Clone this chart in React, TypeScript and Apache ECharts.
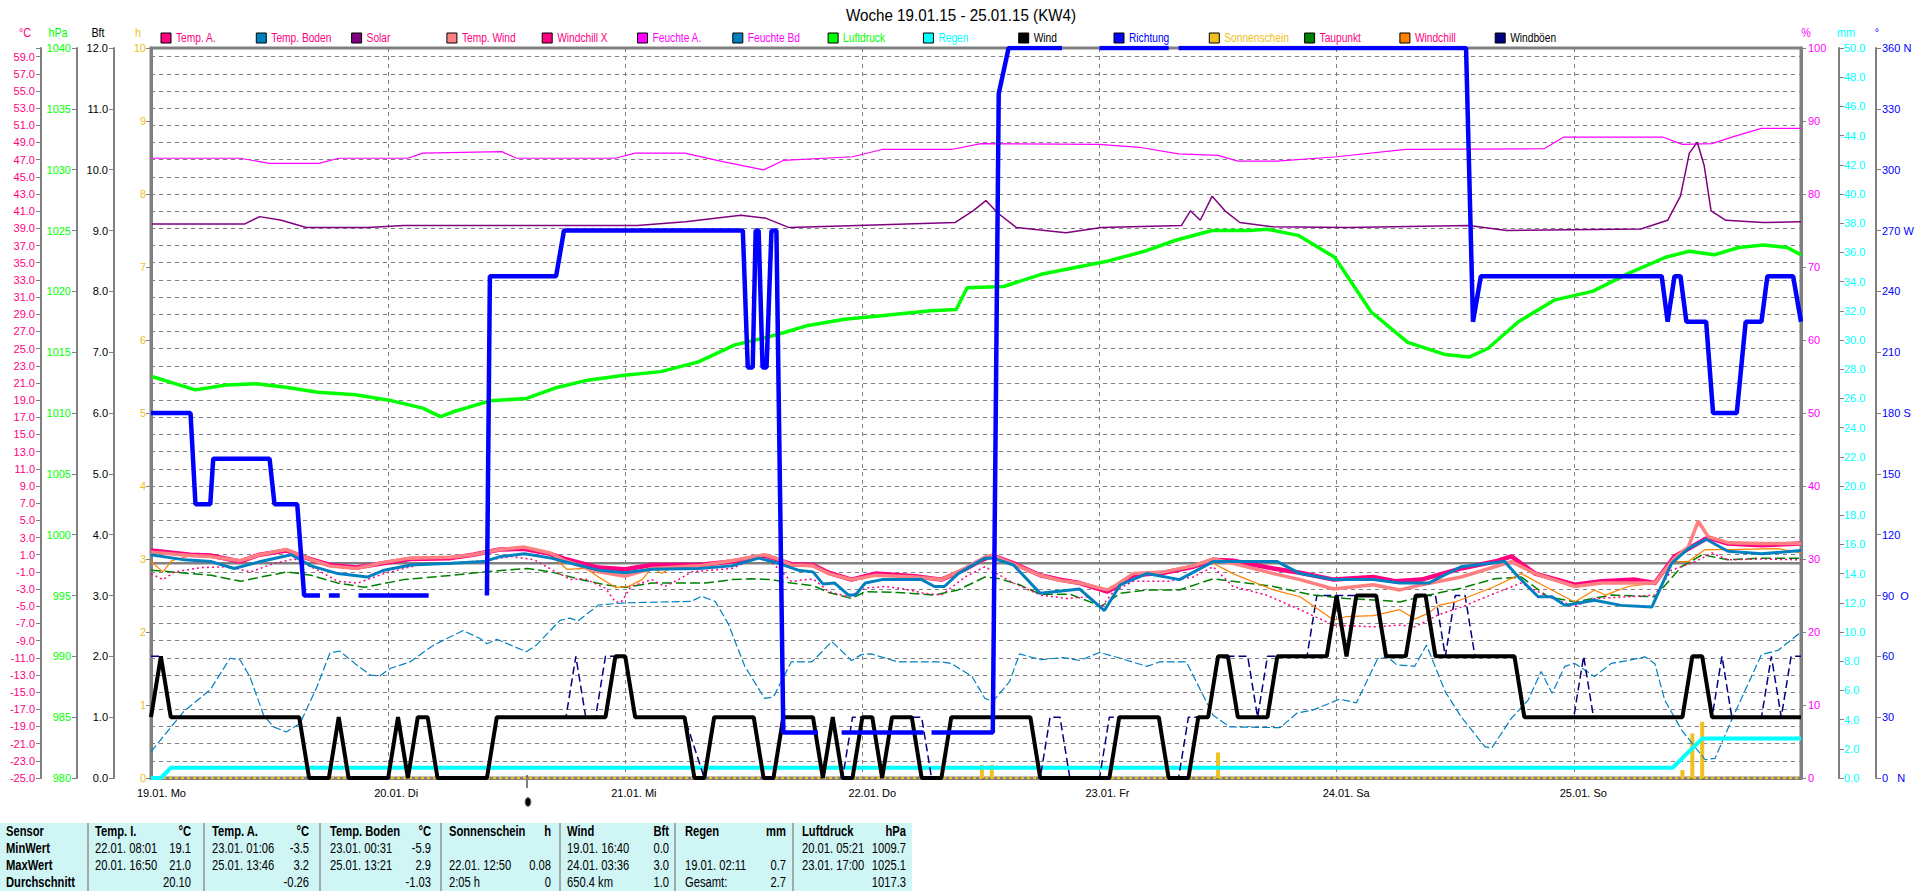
import React, { useEffect, useRef } from 'react';
import * as echarts from 'echarts';

// ---------- data (x = hours since 19.01. 00:00) ----------
const dayLabels = ['19.01. Mo', '20.01. Di', '21.01. Mi', '22.01. Do', '23.01. Fr', '24.01. Sa', '25.01. So'];
const xMax = 167;

const tempA = [[0,1.5],[4,1.0],[6,0.9],[9,0.2],[11,1.0],[13.7,1.5],[15.8,0.6],[18.1,-0.2],[20.8,-0.5],[23.5,0.0],[26.2,0.5],[30.3,0.6],[32.6,1.0],[35.3,1.6],[37.7,1.7],[40.4,1.1],[41.9,0.5],[45.3,-0.5],[48,-0.7],[50.7,-0.2],[55.4,-0.2],[58.8,0.2],[62.1,0.9],[63.5,0.4],[64.8,-0.1],[67,-0.2],[68.6,-1.1],[70.9,-1.9],[73.3,-1.2],[77.3,-1.5],[80,-1.9],[82.4,-0.7],[83.9,0.3],[85.2,0.9],[87.3,0.0],[90,-1.4],[92,-1.9],[94,-2.3],[96.8,-3.3],[97.6,-2.8],[99.4,-1.4],[102.5,-1.1],[105.5,-0.4],[107.5,0.4],[109.5,0.3],[113.6,-0.6],[116.3,-1.1],[119.7,-1.9],[123.7,-1.6],[125.9,-2.1],[128.6,-1.9],[132.6,-0.6],[136,0.2],[137.7,0.8],[140.1,-1.2],[144.1,-2.5],[146.8,-2.1],[150.2,-1.9],[152.2,-2.3],[154.2,0.8],[155.6,1.7],[157.6,3.0],[159.6,2.3],[163,2.1],[167,2.3]];

const tempWind = [[0,1.3],[4,0.9],[6,0.8],[9,0.3],[11,1.0],[13.7,1.6],[15.8,0.6],[18.1,-0.3],[20.8,-0.6],[23.5,0.1],[26.2,0.6],[30.3,0.7],[32.6,1.0],[35.3,1.6],[37.7,1.9],[40.4,1.2],[41.9,0.3],[45.3,-1.0],[48,-1.5],[50.7,-0.6],[55.4,-0.3],[58.8,0.3],[62.1,1.0],[63.5,0.5],[64.8,-0.2],[67,-0.3],[68.6,-1.2],[70.9,-1.9],[73.3,-1.4],[77.3,-1.6],[80,-1.9],[82.4,-0.6],[84.4,0.7],[85.2,0.9],[87.3,-0.1],[90,-1.4],[92,-2.0],[94,-2.3],[96.8,-3.1],[97.6,-2.6],[99.4,-1.2],[102.5,-1.0],[105.5,-0.3],[107.5,0.5],[109.5,0.0],[113.6,-1.2],[116.3,-1.9],[119.7,-3.0],[123.7,-2.5],[126.4,-3.1],[128.6,-2.5],[132.6,-1.6],[136,-0.4],[137.7,0.2],[140.1,-1.2],[144.1,-2.7],[146.8,-2.3],[152.2,-2.3],[154.2,0.6],[155.6,1.9],[156.6,4.9],[157.6,3.1],[159.6,2.4],[163,2.3],[167,2.3]];

const tempBoden = [[0,1.0],[3.4,0.4],[6.1,0.2],[8.4,-0.6],[11.1,0.2],[14.2,1.0],[16.2,-0.3],[18.9,-1.2],[21.9,-1.6],[23.6,-0.8],[26.3,-0.2],[30.4,0.0],[33.7,0.2],[35.4,0.8],[37.8,1.1],[40.5,0.6],[42.5,0.0],[45.3,-0.8],[48,-1.1],[50.7,-0.7],[55.4,-0.6],[58.8,-0.3],[61.5,0.6],[63.5,0.0],[65.5,-0.8],[67,-1.0],[68,-2.4],[69.2,-2.3],[70.6,-3.7],[71.3,-3.7],[72.3,-2.3],[74,-1.9],[78,-1.9],[79.3,-2.7],[80.3,-2.7],[81.7,-1.2],[84.4,0.6],[85.2,0.6],[87.3,-0.2],[90,-3.5],[94,-3.0],[96.5,-5.5],[98.1,-2.5],[100.8,-1.2],[104.1,-1.9],[107.5,0.2],[114,0.2],[116.3,-1.2],[119.7,-1.9],[123.7,-1.9],[126.4,-2.3],[129.3,-2.3],[132.6,-0.4],[137,0.2],[138.4,-1.6],[140.4,-3.9],[141.8,-3.9],[143.1,-4.9],[146.1,-4.3],[148.8,-4.9],[151.9,-5.1],[153.9,0.0],[155.6,1.7],[157.4,2.8],[159.6,1.4],[163,1.1],[167,1.5]];

const windchill = [[0,0.2],[1.2,-1.0],[2.1,0.3],[4,0.9],[6,0.8],[9,0.1],[11,0.9],[13.7,1.4],[15.8,0.5],[18.1,-0.3],[20.8,-0.6],[23.5,-0.1],[26.2,0.4],[30.3,0.5],[32.6,0.9],[35.3,1.5],[37.7,1.7],[40.4,1.0],[42.1,-0.7],[44,-0.6],[45.3,-1.6],[47,-2.8],[48.3,-2.7],[49.7,-1.9],[50.7,-0.5],[51.7,-1.2],[52.7,-0.4],[54,-0.2],[58.8,0.1],[62.1,0.8],[63.5,0.3],[64.8,-0.1],[67,-0.2],[68.6,-1.1],[70.9,-1.9],[73.3,-1.3],[77.3,-1.5],[80,-1.9],[82.4,-0.8],[85.2,0.8],[87.3,-0.1],[90,-1.4],[92,-2.0],[94,-2.3],[96.8,-3.2],[97.6,-2.8],[99.4,-1.4],[102.5,-1.1],[105.5,-0.5],[107.5,0.0],[109.5,-1.2],[113.6,-3.1],[116.3,-3.9],[119.7,-6.6],[121,-6.2],[123.7,-6.1],[126.4,-5.4],[127.9,-6.5],[129.3,-5.8],[130.3,-4.9],[132,-4.5],[136,-2.7],[138.7,-1.2],[141.1,-2.7],[144.1,-4.5],[146.1,-3.1],[147.2,-3.7],[149.5,-2.7],[152.2,-2.3],[153.9,0.2],[155.6,0.2],[157.3,1.6],[159.6,1.6],[164.7,1.7],[167,1.2]];

const windchillX = [[0,-1.2],[1.2,-1.9],[2.4,-1.0],[5.1,-0.5],[7.8,-0.4],[10.1,-1.0],[12.5,0.0],[14.5,0.5],[16.9,-0.8],[18.9,-2.1],[20.9,-2.3],[23.6,-1.2],[27,-0.2],[30.4,0.0],[33.7,0.3],[36.4,0.8],[38.8,0.4],[40.5,-0.7],[42.5,-1.9],[43.9,-1.8],[46,-2.9],[47,-4.5],[47.6,-4.5],[48.6,-2.7],[50.7,-1.9],[52,-2.7],[53.4,-1.9],[54.7,-1.0],[56.7,-0.8],[58.8,-0.6],[60.8,0.4],[62.1,0.7],[63.5,-0.6],[64.8,-2.1],[67,-1.8],[68.6,-3.3],[70.6,-3.9],[72.3,-2.9],[74.3,-2.7],[76.3,-3.0],[78.3,-3.5],[80,-3.7],[82.4,-1.6],[84.4,-0.4],[87.3,-2.3],[90,-3.7],[92.7,-4.1],[94.7,-3.9],[96.2,-5.1],[97.4,-3.3],[99.4,-2.1],[102.8,-2.1],[105.5,-1.6],[107.5,-0.4],[109.5,-2.7],[112.9,-3.7],[116.3,-5.4],[119.7,-7.2],[123.7,-7.4],[126.4,-7.2],[127.9,-7.4],[130.3,-6.0],[132.6,-5.1],[136,-3.5],[138.7,-2.3],[141.4,-3.9],[144.1,-5.0],[146.1,-4.1],[149.5,-3.9],[152.2,-3.7],[153.9,-0.8],[156.3,0.2],[158,1.2],[159.6,0.4],[163,0.5],[167,0.4]];

const taupunkt = [[0,-0.8],[6.1,-1.4],[9.1,-2.1],[11.1,-1.6],[13.8,-1.0],[16.2,-1.4],[18.9,-2.3],[21.6,-2.8],[25.6,-1.9],[30.4,-1.4],[33.7,-1.0],[38.1,-0.6],[40.5,-1.0],[42.5,-1.6],[43.9,-2.0],[46,-2.5],[48,-2.8],[50.7,-2.3],[53,-2.3],[56.1,-2.3],[58.8,-1.9],[60.8,-1.8],[62.8,-1.9],[64.8,-2.3],[67,-2.6],[68.6,-3.4],[70.9,-4.1],[72.3,-3.3],[75.6,-3.4],[79.3,-3.7],[81.7,-3.1],[84.4,-1.6],[85.9,-1.8],[87.9,-2.5],[90,-3.6],[93,-3.6],[96.2,-5.0],[98.1,-3.5],[100.8,-3.1],[104.1,-3.1],[107.5,-1.8],[109.5,-2.1],[113.6,-2.7],[117.6,-3.7],[121,-4.1],[124.4,-4.3],[126.4,-4.5],[129.3,-3.7],[132.6,-2.9],[136,-1.8],[138.7,-1.6],[141.4,-3.9],[144.1,-4.5],[147.8,-3.7],[152.2,-3.9],[154.9,-0.4],[157,1.0],[159.6,0.4],[163,0.6],[167,0.6]];

const feuchteBd = [[0,3.6],[3.3,9.1],[6,12.1],[8,16.4],[9,16.2],[10,13.9],[11.4,8.6],[12.4,7.0],[13.7,6.3],[15.1,7.5],[16.8,12.5],[18.1,17.1],[19.1,17.4],[20.8,15.5],[22.2,14.1],[23.2,14.0],[24.2,15.0],[26.2,15.9],[28.6,18.2],[31.6,20.2],[33.3,19.1],[34,18.4],[35,19.0],[38,17.3],[39,18.2],[41.4,21.6],[42.4,21.9],[43.2,21.5],[45.3,23.7],[48,24.0],[54.7,24.2],[55.7,24.9],[57.1,24.2],[58.4,21.2],[60.1,15.3],[62.1,10.9],[63,11.1],[64.8,15.9],[66.9,15.9],[68.9,18.7],[70.9,16.1],[71.9,16.9],[72.9,17.0],[75.6,15.9],[80,15.9],[81,15.7],[83.1,13.9],[84.4,10.9],[85.2,10.5],[86.9,13.2],[87.9,17.0],[90,16.2],[92.3,16.5],[94,16.1],[96,17.2],[98.1,16.4],[100.8,15.3],[102.1,15.9],[104.8,15.9],[106.2,12.1],[107.5,8.6],[109.2,7.0],[114.3,6.9],[116,8.9],[117.6,9.3],[120.3,10.8],[122,10.3],[124.1,16.2],[125.1,16.6],[126.1,15.5],[127.9,15.3],[129.1,18.2],[129.9,15.5],[131,11.8],[132.6,8.4],[135,4.3],[135.7,4.1],[137.7,8.2],[139.4,10.7],[140.7,14.6],[141.8,11.6],[143.1,15.3],[144.1,15.7],[146.1,13.9],[147.8,15.7],[149.5,16.1],[151.2,16.6],[152.2,15.7],[153.2,10.7],[154.9,6.6],[157.3,2.5],[158.3,2.7],[160,8.0],[163,16.9],[164.7,17.5],[167,20.0]];

const feuchteA = [[0,84.9],[9,84.9],[12,84.2],[17,84.2],[19,84.9],[26,84.9],[27.5,85.6],[35.5,85.8],[37,84.9],[47,84.9],[49,85.6],[54,85.6],[58,84.4],[62,83.3],[64,84.6],[71,85.1],[74,86.1],[81,86.1],[84,86.9],[96,86.8],[100,86.4],[104,85.5],[108,85.3],[110,84.5],[114,84.5],[120,85.1],[127,86.1],[141,86.2],[143,87.8],[153,87.8],[155,86.8],[158,86.9],[160,87.8],[163,89.0],[167,89.0]];

const solar = [[0.1,75.9],[9.5,75.9],[11,76.9],[13.2,76.4],[15.7,75.4],[21.9,75.4],[25.6,75.7],[34.3,75.7],[40.5,75.7],[49.2,75.7],[54.1,76.2],[59.7,77.1],[62.2,76.7],[64.6,75.4],[71.5,75.7],[81.4,76.1],[83.2,77.7],[84.5,79.1],[85.7,77.4],[87.6,75.4],[92.6,74.7],[96.2,75.4],[104.3,75.7],[105.2,77.7],[106.2,76.4],[107.4,79.7],[108.7,77.7],[110.2,76.1],[113.6,75.5],[121.1,75.4],[133.4,75.7],[137.2,75.0],[150.8,75.2],[153.5,76.4],[154.8,79.7],[155.7,85.6],[156.5,87.1],[157.2,83.9],[157.9,77.7],[159.4,76.4],[163.2,76.1],[167,76.2]];

const luftdruck = [[0.1,1013.0],[2.1,1012.5],[4.5,1011.9],[7.6,1012.3],[10.7,1012.4],[13.8,1012.1],[16.9,1011.7],[20.7,1011.5],[24.4,1011.0],[27.5,1010.4],[29.3,1009.7],[30.6,1010.1],[34.3,1011.0],[38.0,1011.2],[41.1,1012.1],[44.2,1012.7],[47.9,1013.1],[51.6,1013.4],[55.4,1014.2],[59.1,1015.6],[62.2,1016.2],[64.0,1016.6],[66.5,1017.2],[70.2,1017.7],[73.9,1018.0],[78.9,1018.4],[81.5,1018.5],[82.6,1020.3],[86.3,1020.4],[90.1,1021.4],[93.8,1022.0],[96.9,1022.5],[100.6,1023.3],[103.7,1024.2],[107.4,1025.0],[111.1,1025.0],[113.0,1025.1],[116.1,1024.6],[119.8,1022.8],[123.5,1018.3],[127.2,1015.8],[131.0,1014.8],[133.4,1014.6],[135.3,1015.3],[138.4,1017.5],[142.1,1019.3],[145.9,1020.0],[149.6,1021.5],[153.3,1022.8],[155.7,1023.3],[158.2,1023.0],[160.7,1023.6],[163.2,1023.8],[165.6,1023.6],[167,1023.0]];

const wind = [[0,1],[1,2],[2,1],[15,1],[16,0],[18,0],[19,1],[20,0],[24,0],[25,1],[26,0],[27,1],[28,1],[29,0],[34,0],[35,1],[46,1],[47,2],[48,2],[49,1],[54,1],[55,0],[56,0],[57,1],[61,1],[62,0],[63,0],[64,1],[67,1],[68,0],[69,1],[70,0],[71,0],[72,1],[73,1],[74,0],[75,1],[77,1],[78,0],[80,0],[81,1],[89,1],[90,0],[97,0],[98,1],[102,1],[103,0],[105,0],[106,1],[107,1],[108,2],[109,2],[110,1],[113,1],[114,2],[119,2],[120,3],[121,2],[122,3],[124,3],[125,2],[127,2],[128,3],[129,3],[130,2],[138,2],[139,1],[155,1],[156,2],[157,2],[158,1],[167,1]];

const windboen = [[0,2],[1,2],[2,1],[15,1],[16,0],[18,0],[19,1],[20,0],[24,0],[25,1],[26,0],[27,1],[28,1],[29,0],[34,0],[35,1],[42,1],[43,2],[44,1],[45,1],[46,2],[48,2],[49,1],[54,1],[56,0],[57,1],[61,1],[62,0],[63,0],[64,1],[67,1],[68,0],[69,1],[70,0],[71,1],[73,1],[74,0],[75,1],[78,1],[79,0],[80,0],[81,1],[89,1],[90,0],[91,1],[92,1],[93,0],[96,0],[97,1],[102,1],[103,0],[104,0],[105,1],[107,1],[108,2],[111,2],[112,1],[113,2],[117,2],[118,3],[124,3],[125,2],[127,2],[128,3],[130,3],[131,2],[132,3],[133,3],[134,2],[138,2],[139,1],[144,1],[145,2],[146,1],[155,1],[156,2],[157,2],[158,1],[159,2],[160,1],[163,1],[164,2],[165,1],[166,2],[167,2]];

const richtung = [[0,180],[4,180],[4.5,135],[6,135],[6.3,157.5],[12,157.5],[12.5,135],[14.8,135],[15.5,90],[17.1,90],[17.5,null],[18,90],[19.1,90],[20,null],[21,90],[28.1,90],[30,null],[34,90],[34.3,247.5],[41,247.5],[41.8,270],[59.9,270],[60.4,202.5],[60.9,202.5],[61.2,270],[61.5,270],[61.9,202.5],[62.3,202.5],[62.8,270],[63.3,270],[64,22.5],[67.5,22.5],[68.5,null],[69.9,22.5],[78.2,22.5],[78.6,null],[79,22.5],[85.2,22.5],[85.8,337.5],[86.8,360],[92.2,360],[94,null],[96,360],[103,360],[103.5,null],[104,360],[133.1,360],[133.8,225],[134.6,247.5],[152.9,247.5],[153.5,225],[154.2,247.5],[154.8,247.5],[155.4,225],[157.4,225],[158.1,180],[160.5,180],[161.4,225],[163,225],[163.6,247.5],[166.2,247.5],[167,225]];

const regen = [[0,0],[1,0],[2,0.7],[154,0.7],[157,2.7],[167,2.7]];
const sonnenBars = [[84.1,0.18],[85.1,0.18],[108,0.35],[155,0.11],[156,0.61],[157,0.77]];
const sonnenZero = [[0,0],[167,0]];
const zeroLine = [[0,0],[167,0]];

const legendItems = [
  { name: 'Temp. A.', box: '#ff0080', text: '#ff0080' },
  { name: 'Temp. Boden', box: '#0080c0', text: '#ff0080' },
  { name: 'Solar', box: '#800080', text: '#ff0080' },
  { name: 'Temp. Wind', box: '#ff8080', text: '#ff0080' },
  { name: 'Windchill X', box: '#ff0080', text: '#ff0080' },
  { name: 'Feuchte A.', box: '#ff00ff', text: '#ff00ff' },
  { name: 'Feuchte Bd', box: '#0080c0', text: '#ff00ff' },
  { name: 'Luftdruck', box: '#00ff00', text: '#00ff00' },
  { name: 'Regen', box: '#00ffff', text: '#00ffff' },
  { name: 'Wind', box: '#000000', text: '#000000' },
  { name: 'Richtung', box: '#0000ff', text: '#0000ff' },
  { name: 'Sonnenschein', box: '#f0c020', text: '#f0c020' },
  { name: 'Taupunkt', box: '#008000', text: '#ff0080' },
  { name: 'Windchill', box: '#ff8000', text: '#ff0080' },
  { name: 'Windböen', box: '#000080', text: '#000000' },
];

const dirNames: Record<number, string> = { 0: '0   N', 90: '90  O', 180: '180 S', 270: '270 W', 360: '360 N' };

const tableHead = ['Sensor', 'Temp. I.', 'Temp. A.', 'Temp. Boden', 'Sonnenschein', 'Wind', 'Regen', 'Luftdruck'];
const tableUnits = ['', '°C', '°C', '°C', 'h', 'Bft', 'mm', 'hPa'];
const rowNames = ['MinWert', 'MaxWert', 'Durchschnitt'];
const tableCells = [
  [['22.01. 08:01', '19.1'], ['20.01. 16:50', '21.0'], ['', '20.10']],
  [['23.01. 01:06', '-3.5'], ['25.01. 13:46', '3.2'], ['', '-0.26']],
  [['23.01. 00:31', '-5.9'], ['25.01. 13:21', '2.9'], ['', '-1.03']],
  [['', ''], ['22.01. 12:50', '0.08'], ['2:05 h', '0']],
  [['19.01. 16:40', '0.0'], ['24.01. 03:36', '3.0'], ['650.4 km', '1.0']],
  [['', ''], ['19.01. 02:11', '0.7'], ['Gesamt:', '2.7']],
  [['20.01. 05:21', '1009.7'], ['23.01. 17:00', '1025.1'], ['', '1017.3']],
];
const colLeft = [6, 95, 212, 330, 449, 567, 685, 802];
const colRight = [0, 191, 309, 431, 551, 669, 786, 906];
const colSeps = [88, 204, 320, 441, 560, 675, 793];
const rowY = [832, 849, 866, 883];

const SANS = "'Liberation Sans', Arial, sans-serif";
const GRID_L = 151, GRID_R = 1801, GRID_T = 48, GRID_B = 778;

function lineSeries(name: string, data: any[], yAxisIndex: number, color: string, width: number, type: any = 'solid') {
  return {
    type: 'line', name, data, yAxisIndex, xAxisIndex: 0,
    showSymbol: false, symbol: 'none', silent: true, connectNulls: false,
    lineStyle: { color, width, type },
    itemStyle: { color },
  };
}

function yAx(opts: any) {
  const { color, fmt, labelMargin, ...rest } = opts;
  return {
    type: 'value',
    axisLine: { show: true, onZero: false, lineStyle: { color: '#808080', width: 2 } },
    axisTick: { show: true, length: 5, lineStyle: { color: '#808080', width: 1 } },
    splitLine: { show: false },
    axisLabel: { color, fontFamily: SANS, fontSize: 11, margin: labelMargin, formatter: fmt, showMaxLabel: true, showMinLabel: true },
    ...rest,
  };
}

export default function App() {
  const ref = useRef<HTMLDivElement>(null);
  useEffect(() => {
    if (!ref.current) return;
    const chart = echarts.init(ref.current, null, { renderer: 'svg' });

    const graphics: any[] = [];
    const txt = (x: number, y: number, text: string, fill: string, font: string, align: string, sx = 1) => ({
      type: 'text', x, y, scaleX: sx, style: { text, fill, font, align, verticalAlign: 'middle' },
    });
    // title
    graphics.push(txt(961, 15, 'Woche 19.01.15 - 25.01.15 (KW4)', '#000', `16px ${SANS}`, 'center', 0.95));
    // legend
    legendItems.forEach((it, i) => {
      const x = 161 + 95.3 * i;
      graphics.push({ type: 'rect', shape: { x, y: 33, width: 10, height: 10 }, style: { fill: it.box, stroke: '#000', lineWidth: 1 } });
      graphics.push(txt(x + 15, 38, it.name, it.text, `12px ${SANS}`, 'left', 0.85));
    });
    // axis names
    const axisNames = [
      { t: '°C', x: 25, c: '#ff0080' }, { t: 'hPa', x: 58, c: '#00ff00' }, { t: 'Bft', x: 98, c: '#000000' }, { t: 'h', x: 138, c: '#f0c020' },
      { t: '%', x: 1806, c: '#ff00ff' }, { t: 'mm', x: 1846, c: '#00ffff' }, { t: '°', x: 1877, c: '#0000ff' },
    ];
    axisNames.forEach((a) => graphics.push(txt(a.x, 33, a.t, a.c, `12px ${SANS}`, 'center', 0.9)));
    // current-time marker
    graphics.push({ type: 'line', shape: { x1: 527, y1: 775, x2: 527, y2: 788 }, style: { stroke: '#000', lineWidth: 1 } });
    graphics.push({ type: 'ellipse', shape: { cx: 528, cy: 802, rx: 3, ry: 4.5 }, style: { fill: '#000', stroke: '#909090', lineWidth: 1 } });
    // table
    graphics.push({ type: 'rect', shape: { x: 0, y: 823, width: 912, height: 68 }, style: { fill: '#cff5f5' } });
    colSeps.forEach((sx) => graphics.push({ type: 'line', shape: { x1: sx, y1: 823, x2: sx, y2: 891 }, style: { stroke: '#909090', lineWidth: 1.5 } }));
    const tf = (bold: boolean) => `${bold ? 'bold ' : ''}14px ${SANS}`;
    const TS = 0.8;
    tableHead.forEach((h, c) => {
      graphics.push(txt(colLeft[c], rowY[0], h, '#000', tf(true), 'left', TS));
      if (tableUnits[c]) graphics.push(txt(colRight[c], rowY[0], tableUnits[c], '#000', tf(true), 'right', TS));
    });
    rowNames.forEach((r, i) => graphics.push(txt(colLeft[0], rowY[i + 1], r, '#000', tf(true), 'left', TS)));
    tableCells.forEach((col, ci) => {
      col.forEach((cell, ri) => {
        const c = ci + 1;
        if (cell[0]) graphics.push(txt(colLeft[c], rowY[ri + 1], cell[0], '#000', tf(false), 'left', TS));
        if (cell[1]) graphics.push(txt(colRight[c], rowY[ri + 1], cell[1], '#000', tf(false), 'right', TS));
      });
    });

    const option: any = {
      animation: false,
      backgroundColor: '#ffffff',
      grid: {
        left: GRID_L, right: 1920 - GRID_R, top: GRID_T, bottom: 891 - GRID_B,
        containLabel: false, outerBoundsMode: 'none',
        show: true, borderColor: '#808080', borderWidth: 3, backgroundColor: '#ffffff',
      },
      xAxis: [{
        type: 'value', min: 0, max: xMax, interval: 24,
        axisLine: { show: true, onZero: false, lineStyle: { color: '#808080', width: 3 } },
        axisTick: { show: false },
        splitLine: { show: true, lineStyle: { color: '#808080', width: 1, type: [4, 4] } },
        axisLabel: {
          color: '#000', fontFamily: SANS, fontSize: 11, margin: 9, align: 'left', padding: [0, 0, 0, -14],
          showMaxLabel: false,
          formatter: (v: number) => (v % 24 === 0 ? dayLabels[v / 24] || '' : ''),
        },
      }],
      yAxis: [
        yAx({ position: 'left', offset: 0, min: 0, max: 10, interval: 1, color: '#f0c020', labelMargin: 5, fmt: (v: number) => String(v), axisLine: { show: true, onZero: false, lineStyle: { color: '#808080', width: 3 } } }),
        yAx({ position: 'left', offset: 110, min: -25, max: 60, interval: 2, color: '#ff0080', labelMargin: 6, fmt: (v: number) => (v >= 60 ? '' : v.toFixed(1)),
          splitLine: { show: true, lineStyle: { color: '#808080', width: 1, type: [4, 4] } } }),
        yAx({ position: 'left', offset: 74, min: 980, max: 1040, interval: 5, color: '#00ff00', labelMargin: 6, fmt: (v: number) => String(v) }),
        yAx({ position: 'left', offset: 37, min: 0, max: 12, interval: 1, color: '#000000', labelMargin: 6, fmt: (v: number) => v.toFixed(1) }),
        yAx({ position: 'right', offset: 0, min: 0, max: 100, interval: 10, color: '#ff00ff', labelMargin: 7, fmt: (v: number) => String(v), axisLine: { show: true, onZero: false, lineStyle: { color: '#808080', width: 3 } } }),
        yAx({ position: 'right', offset: 38, min: 0, max: 50, interval: 2, color: '#00ffff', labelMargin: 5, fmt: (v: number) => v.toFixed(1) }),
        yAx({ position: 'right', offset: 75, min: 0, max: 360, interval: 30, color: '#0000ff', labelMargin: 6, fmt: (v: number) => dirNames[v] ?? String(v) }),
      ],
      series: [
        lineSeries('Nulllinie', zeroLine, 1, '#808080', 2.5),
        lineSeries('Sonnenschein', sonnenZero, 0, '#f0c020', 2.5, [3, 3]),
        { type: 'bar', name: 'Sonnenschein', data: sonnenBars, yAxisIndex: 0, xAxisIndex: 0, barWidth: 4, silent: true, itemStyle: { color: '#f0c020' } },
        lineSeries('Feuchte A.', feuchteA, 4, '#ff00ff', 1.2),
        lineSeries('Solar', solar, 4, '#800080', 1.5),
        lineSeries('Feuchte Bd', feuchteBd, 4, '#0080c0', 1.2, [8, 3]),
        lineSeries('Regen', regen, 5, '#00ffff', 4),
        lineSeries('Windböen', windboen, 3, '#000080', 1.5, [8, 4]),
        lineSeries('Taupunkt', taupunkt, 1, '#008000', 1.5, [10, 4]),
        lineSeries('Windchill X', windchillX, 1, '#ff0080', 1.5, [2, 3]),
        lineSeries('Windchill', windchill, 1, '#ff8000', 1.2),
        lineSeries('Temp. A.', tempA, 1, '#ff0080', 4.5),
        lineSeries('Temp. Wind', tempWind, 1, '#ff8080', 3.5),
        lineSeries('Temp. Boden', tempBoden, 1, '#0080c0', 3),
        lineSeries('Luftdruck', luftdruck, 2, '#00ff00', 3.5),
        lineSeries('Wind', wind, 3, '#000000', 4),
        lineSeries('Richtung', richtung, 6, '#0000ff', 4.5),
      ],
      graphic: { elements: graphics },
    };
    chart.setOption(option);
    return () => chart.dispose();
  }, []);
  return <div ref={ref} style={{ position: 'absolute', left: 0, top: 0, width: 1920, height: 891 }} />;
}
